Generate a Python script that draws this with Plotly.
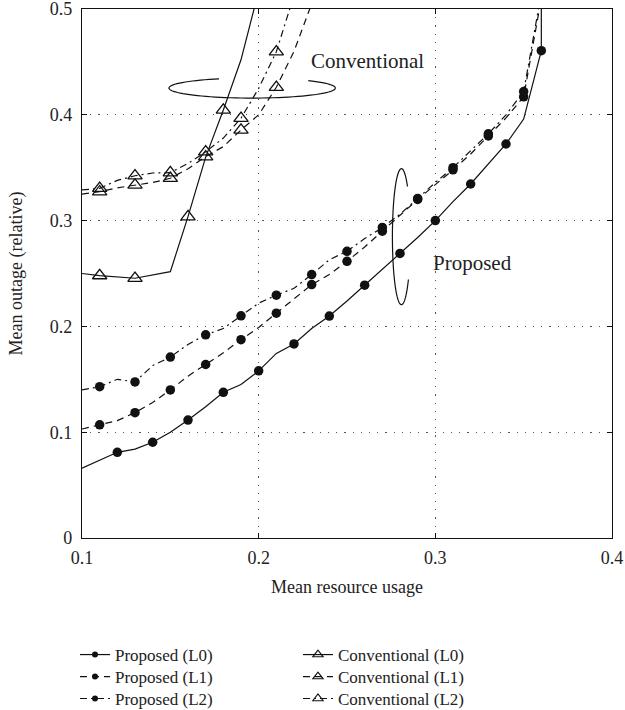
import numpy as np
import plotly.graph_objects as go

# ---------------- data ----------------
# Proposed (L0) - solid line with filled circles
prop_l0_line_x = [0.10, 0.12, 0.13, 0.14, 0.15, 0.16, 0.17, 0.18, 0.19, 0.20, 0.21, 0.22, 0.23, 0.24,
                  0.25, 0.26, 0.27, 0.28, 0.29, 0.30, 0.31, 0.32, 0.33, 0.34, 0.35, 0.36, 0.36]
prop_l0_line_y = [0.066, 0.081, 0.084, 0.0905, 0.100, 0.1115, 0.124, 0.1377, 0.145, 0.158, 0.1745, 0.1834, 0.198, 0.2098,
                  0.224, 0.239, 0.254, 0.269, 0.284, 0.300, 0.318, 0.3346, 0.354, 0.3724, 0.396, 0.4606, 0.62]
prop_l0_mark_x = [0.12, 0.14, 0.16, 0.18, 0.20, 0.22, 0.24, 0.26, 0.28, 0.30, 0.32, 0.34, 0.36]
prop_l0_mark_y = [0.081, 0.0905, 0.1115, 0.1377, 0.158, 0.1834, 0.2098, 0.239, 0.269, 0.300, 0.3346, 0.3724, 0.4606]

# Proposed (L1) - dashed
prop_l1_line_x = [0.10, 0.11, 0.12, 0.13, 0.14, 0.15, 0.16, 0.17, 0.18, 0.19, 0.20, 0.21, 0.22, 0.23,
                  0.24, 0.25, 0.26, 0.27, 0.28, 0.29, 0.30, 0.31, 0.32, 0.33, 0.34, 0.35, 0.36]
prop_l1_line_y = [0.103, 0.107, 0.111, 0.1185, 0.128, 0.140, 0.153, 0.164, 0.175, 0.1875, 0.199, 0.2125, 0.226, 0.2395,
                  0.249, 0.2615, 0.275, 0.290, 0.305, 0.320, 0.334, 0.348, 0.363, 0.380, 0.397, 0.417, 0.51]
prop_l1_mark_x = [0.11, 0.13, 0.15, 0.17, 0.19, 0.21, 0.23, 0.25, 0.27, 0.29, 0.31, 0.33, 0.35]
prop_l1_mark_y = [0.107, 0.1185, 0.140, 0.164, 0.1875, 0.2125, 0.2395, 0.2615, 0.290, 0.320, 0.348, 0.380, 0.417]

# Proposed (L2) - dash-dot
prop_l2_line_x = [0.10, 0.11, 0.12, 0.13, 0.14, 0.15, 0.16, 0.17, 0.18, 0.19, 0.20, 0.21, 0.22, 0.23,
                  0.24, 0.25, 0.26, 0.27, 0.28, 0.29, 0.30, 0.31, 0.32, 0.33, 0.34, 0.35, 0.36]
prop_l2_line_y = [0.140, 0.143, 0.150, 0.1475, 0.163, 0.171, 0.183, 0.192, 0.198, 0.210, 0.222, 0.2295, 0.236, 0.249,
                  0.263, 0.271, 0.283, 0.2935, 0.306, 0.321, 0.336, 0.350, 0.366, 0.382, 0.400, 0.422, 0.515]
prop_l2_mark_x = [0.11, 0.13, 0.15, 0.17, 0.19, 0.21, 0.23, 0.25, 0.27, 0.29, 0.31, 0.33, 0.35]
prop_l2_mark_y = [0.143, 0.1475, 0.171, 0.192, 0.210, 0.2295, 0.249, 0.271, 0.2935, 0.321, 0.350, 0.382, 0.422]

# Conventional (L0) - solid with open triangles
conv_l0_line_x = [0.10, 0.11, 0.13, 0.15, 0.16, 0.17, 0.18, 0.19, 0.20]
conv_l0_line_y = [0.250, 0.248, 0.2455, 0.2517, 0.3037, 0.360, 0.4045, 0.452, 0.517]
conv_l0_mark_x = [0.11, 0.13, 0.16, 0.18]
conv_l0_mark_y = [0.248, 0.2455, 0.3037, 0.4045]

# Conventional (L1) - dashed
conv_l1_line_x = [0.10, 0.11, 0.12, 0.13, 0.14, 0.15, 0.16, 0.17, 0.18, 0.19, 0.20, 0.21, 0.22, 0.23]
conv_l1_line_y = [0.325, 0.3273, 0.331, 0.3336, 0.336, 0.340, 0.349, 0.3604, 0.370, 0.3856, 0.400, 0.426, 0.460, 0.505]
conv_l1_mark_x = [0.11, 0.13, 0.15, 0.17, 0.19, 0.21]
conv_l1_mark_y = [0.3273, 0.3336, 0.340, 0.3604, 0.3856, 0.426]

# Conventional (L2) - dash-dot
conv_l2_line_x = [0.10, 0.11, 0.12, 0.13, 0.14, 0.15, 0.16, 0.17, 0.18, 0.19, 0.20, 0.21, 0.22]
conv_l2_line_y = [0.329, 0.3305, 0.338, 0.3424, 0.345, 0.3453, 0.354, 0.365, 0.378, 0.3967, 0.425, 0.4596, 0.513]
conv_l2_mark_x = [0.11, 0.13, 0.15, 0.17, 0.19, 0.21]
conv_l2_mark_y = [0.3305, 0.3424, 0.3453, 0.365, 0.3967, 0.4596]

x_tickvals = [0.1, 0.2, 0.3, 0.4]
x_ticktext = ["0.1", "0.2", "0.3", "0.4"]
y_tickvals = [0, 0.1, 0.2, 0.3, 0.4, 0.5]
y_ticktext = ["0", "0.1", "0.2", "0.3", "0.4", "0.5"]

legend_names = ["Proposed (L0)", "Proposed (L1)", "Proposed (L2)",
                "Conventional (L0)", "Conventional (L1)", "Conventional (L2)"]

# ---------------- styling ----------------
FONT = "Liberation Serif"
BLACK = "#111111"
TXT = "#222222"
SOLID = "solid"
DASH = "7px,5px"
DASHDOT = "7px,4px,2px,4px"
LW = 1.2

fig = go.Figure()

series = [
    (prop_l0_line_x, prop_l0_line_y, prop_l0_mark_x, prop_l0_mark_y, SOLID, "circle"),
    (prop_l1_line_x, prop_l1_line_y, prop_l1_mark_x, prop_l1_mark_y, DASH, "circle"),
    (prop_l2_line_x, prop_l2_line_y, prop_l2_mark_x, prop_l2_mark_y, DASHDOT, "circle"),
    (conv_l0_line_x, conv_l0_line_y, conv_l0_mark_x, conv_l0_mark_y, SOLID, "triangle-up-open"),
    (conv_l1_line_x, conv_l1_line_y, conv_l1_mark_x, conv_l1_mark_y, DASH, "triangle-up-open"),
    (conv_l2_line_x, conv_l2_line_y, conv_l2_mark_x, conv_l2_mark_y, DASHDOT, "triangle-up-open"),
]

legend_ids = ["legend", "legend2", "legend3", "legend4", "legend5", "legend6"]

for i, (lx, ly, mx, my, dash, sym) in enumerate(series):
    is_circle = sym == "circle"
    fig.add_trace(go.Scatter(x=lx, y=ly, mode="lines", line=dict(color=BLACK, width=LW, dash=dash),
                             showlegend=False, hoverinfo="skip"))
    fig.add_trace(go.Scatter(x=mx, y=my, mode="markers",
                             marker=dict(symbol=sym, size=9.5 if is_circle else 12.5, color=BLACK,
                                         line=dict(color=BLACK, width=0 if is_circle else 1.3)),
                             showlegend=False, hoverinfo="skip"))
    # legend entry
    fig.add_trace(go.Scatter(x=[None], y=[None], mode="lines+markers", name=legend_names[i],
                             legend=legend_ids[i],
                             line=dict(color=BLACK, width=LW, dash=dash),
                             marker=dict(symbol=sym, size=6 if is_circle else 9, color=BLACK,
                                         line=dict(color=BLACK, width=0 if is_circle else 1.1))))

# ellipses (loop markers) as paths
def ellipse_path(cx, cy, a, b, t0, t1, n=80):
    ts = np.linspace(t0, t1, n)
    pts = [(cx + a * np.cos(t), cy + b * np.sin(t)) for t in ts]
    return "M " + " L ".join(f"{x:.5f},{y:.5f}" for x, y in pts)

conv_ellipse = ellipse_path(0.1963, 0.4253, 0.0471, 0.0095, 1.98, 2 * np.pi + 0.83)
prop_ellipse = ellipse_path(0.2808, 0.2848, 0.0051, 0.0643, 0.83, 2 * np.pi - 0.68)
for p in (conv_ellipse, prop_ellipse):
    fig.add_shape(type="path", path=p, xref="x", yref="y", line=dict(color=BLACK, width=1.2))

fig.add_annotation(x=0.2614, y=0.451, text="Conventional", showarrow=False,
                   font=dict(family=FONT, size=21, color=TXT))
fig.add_annotation(x=0.3213, y=0.260, text="Proposed", showarrow=False,
                   font=dict(family=FONT, size=21, color=TXT))

axis_common = dict(showline=True, linecolor=BLACK, linewidth=1.2, mirror="ticks",
                   ticks="inside", ticklen=5, tickcolor=BLACK, tickwidth=1.2,
                   showgrid=True, gridcolor="#555555", griddash="1.2px,7px", gridwidth=1,
                   zeroline=False, automargin=False, ticklabeloverflow="allow",
                   tickfont=dict(family=FONT, size=18, color=TXT))

fig.update_xaxes(range=[0.1, 0.4], tickvals=x_tickvals, ticktext=x_ticktext, ticklabelstandoff=3,
                 title=dict(text="Mean resource usage", font=dict(family=FONT, size=18, color=TXT), standoff=13),
                 **axis_common)
fig.update_yaxes(range=[0, 0.5], tickvals=y_tickvals, ticktext=y_ticktext, ticklabelstandoff=5,
                 title=dict(text="Mean outage (relative)", font=dict(family=FONT, size=18, color=TXT), standoff=22),
                 **axis_common)

legend_common = dict(orientation="v", font=dict(family=FONT, size=17, color=TXT),
                     bgcolor="rgba(0,0,0,0)", borderwidth=0, tracegroupgap=0,
                     xanchor="left", yanchor="middle", itemclick=False, itemdoubleclick=False)

# legend placement: paper coordinates (column x, row y)
legend_col_x = [-0.0132, -0.0132, -0.0132, 0.4075, 0.4075, 0.4075]
legend_row_y = [-0.2212, -0.2628, -0.3043, -0.2212, -0.2628, -0.3043]

fig.update_layout(
    width=625, height=710,
    margin=dict(l=82, r=13, t=9, b=172, autoexpand=False),
    plot_bgcolor="white", paper_bgcolor="white",
    font=dict(family=FONT, color=TXT),
    **{lid: dict(x=legend_col_x[i], y=legend_row_y[i], **legend_common) for i, lid in enumerate(legend_ids)}
)

fig.write_html("out.html", config={"displayModeBar": False},
               post_script="document.body.style.margin='0';")
